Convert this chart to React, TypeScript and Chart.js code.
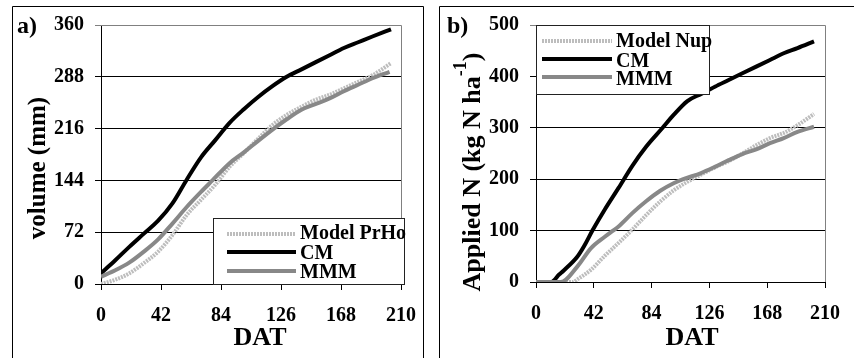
import React, { useEffect, useRef } from 'react';
import { Chart, registerables } from 'chart.js';

Chart.register(...registerables);

const FONT = "'Liberation Serif', 'Times New Roman', serif";

// ---------- Panel a: volume (mm) ----------
const aXTicks = [0, 42, 84, 126, 168, 210];
const aYTicks = [0, 72, 144, 216, 288, 360];
const aModelDays = [0, 10, 20, 30, 40, 50, 60, 70, 80, 90, 100, 110, 120, 130, 140, 150, 160, 170, 180, 190, 203];
const aModelVals = [0, 6, 15, 29, 45, 68, 96, 117, 138, 163, 182, 202, 221, 235, 246, 256, 263, 272, 281, 290, 307];
const aCMDays = [0, 10, 20, 30, 40, 50, 60, 70, 80, 90, 100, 110, 120, 130, 140, 150, 160, 170, 180, 190, 203];
const aCMVals = [15, 33, 52, 70, 88, 112, 145, 176, 200, 224, 243, 260, 275, 288, 298, 308, 318, 328, 336, 344, 354];
const aMMMDays = [0, 10, 20, 30, 40, 50, 60, 70, 78, 90, 100, 110, 121, 130, 140, 150, 160, 170, 180, 190, 202];
const aMMMVals = [10, 19, 30, 45, 62, 84, 107, 128, 144, 168, 183, 199, 216, 229, 242, 250, 258, 268, 277, 286, 295];

// ---------- Panel b: Applied N ----------
const bXTicks = [0, 42, 84, 126, 168, 210];
const bYTicks = [0, 100, 200, 300, 400, 500];
const bModelDays = [0, 27, 30, 40, 50, 60, 70, 80, 90, 100, 110, 120, 130, 140, 150, 160, 170, 180, 190, 202];
const bModelVals = [0, 0, 5, 24, 51, 76, 102, 130, 156, 178, 195, 209, 223, 235, 250, 266, 280, 290, 305, 327];
const bCMDays = [0, 11, 17, 20, 30, 35, 41, 50, 60, 70, 80, 92, 100, 110, 120, 130, 140, 150, 160, 170, 180, 190, 202];
const bCMVals = [0, 0, 15, 22, 49, 70, 100, 141, 183, 226, 263, 300, 325, 352, 366, 380, 393, 406, 419, 432, 445, 455, 468];
const bMMMDays = [0, 18, 30, 40, 50, 56, 60, 70, 80, 90, 100, 107, 120, 130, 140, 150, 160, 170, 180, 190, 202];
const bMMMVals = [0, 0, 30, 66, 88, 100, 108, 134, 157, 177, 192, 200, 212, 224, 237, 249, 258, 270, 280, 292, 302];

const MODEL_STYLE = { color: '#bdbdbd', width: 4, dash: [2, 1] };
const CM_STYLE = { color: '#000000', width: 4, dash: [] as number[] };
const MMM_STYLE = { color: '#888888', width: 4, dash: [] as number[] };

type Part = { text: string; size: number; rise?: number };

function pts(days: number[], vals: number[]) {
  return days.map((d, i) => ({ x: d, y: vals[i] }));
}

function makeDecor(d: any) {
  return {
    id: 'decor',
    afterDraw(chart: any) {
      const { ctx, chartArea: ca } = chart;
      ctx.save();
      // outer panel frame
      ctx.strokeStyle = '#000';
      ctx.lineWidth = 1;
      ctx.beginPath();
      ctx.moveTo(d.frame.left, 400);
      ctx.lineTo(d.frame.left, d.frame.top);
      ctx.lineTo(d.frame.right, d.frame.top);
      if (d.frame.right < chart.width) ctx.lineTo(d.frame.right, 400);
      ctx.stroke();
      // plot area top/right border
      ctx.strokeStyle = '#808080';
      ctx.beginPath();
      ctx.moveTo(ca.left, Math.round(ca.top) + 0.5);
      ctx.lineTo(Math.round(ca.right) + 0.5, Math.round(ca.top) + 0.5);
      ctx.lineTo(Math.round(ca.right) + 0.5, ca.bottom);
      ctx.stroke();
      // legend
      const L = d.legend;
      ctx.fillStyle = '#fff';
      ctx.fillRect(L.left, L.top, L.right - L.left, L.bottom - L.top);
      ctx.strokeStyle = '#222';
      ctx.strokeRect(L.left + 0.5, L.top + 0.5, L.right - L.left, L.bottom - L.top);
      L.items.forEach((it: any, i: number) => {
        ctx.save();
        ctx.strokeStyle = it.style.color;
        ctx.lineWidth = it.style.width;
        ctx.setLineDash(it.style.dash);
        ctx.lineCap = 'butt';
        ctx.beginPath();
        ctx.moveTo(L.sx0, L.lineY[i]);
        ctx.lineTo(L.sx1, L.lineY[i]);
        ctx.stroke();
        ctx.restore();
        ctx.fillStyle = '#000';
        ctx.font = `bold 20px ${FONT}`;
        ctx.textAlign = 'left';
        ctx.textBaseline = 'alphabetic';
        ctx.fillText(it.label, L.tx, L.baseY[i]);
      });
      // panel label
      ctx.fillStyle = '#000';
      ctx.font = `bold 24px ${FONT}`;
      ctx.textAlign = 'left';
      ctx.textBaseline = 'alphabetic';
      ctx.fillText(d.panel.text, d.panel.x, d.panel.y);
      // x title
      ctx.font = `bold 26px ${FONT}`;
      ctx.textAlign = 'center';
      ctx.fillText(d.xTitle.text, d.xTitle.x, d.xTitle.y);
      // y title (rotated, multi-part)
      const parts: Part[] = d.yTitle.parts;
      let total = 0;
      parts.forEach((p) => {
        ctx.font = `bold ${p.size}px ${FONT}`;
        total += ctx.measureText(p.text).width;
      });
      ctx.save();
      ctx.translate(d.yTitle.baseX, d.yTitle.centerY + total / 2);
      ctx.rotate(-Math.PI / 2);
      ctx.textAlign = 'left';
      let x = 0;
      parts.forEach((p) => {
        ctx.font = `bold ${p.size}px ${FONT}`;
        ctx.fillText(p.text, x, -(p.rise || 0));
        x += ctx.measureText(p.text).width;
      });
      ctx.restore();
      ctx.restore();
    },
  };
}

function buildConfig(p: any) {
  const tickFont = { family: FONT, size: 20, weight: 'bold' as const };
  const yMax = p.yTicks[p.yTicks.length - 1];
  return {
    type: 'line' as const,
    data: {
      datasets: p.series.map((s: any) => ({
        label: s.label,
        data: pts(s.days, s.vals),
        borderColor: s.style.color,
        backgroundColor: s.style.color,
        borderWidth: s.style.width,
        borderDash: s.style.dash,
        borderCapStyle: 'butt',
        borderJoinStyle: 'round',
        pointRadius: 0,
        fill: false,
        order: s.order,
        cubicInterpolationMode: 'monotone',
      })),
    },
    options: {
      responsive: false,
      animation: false,
      devicePixelRatio: 1,
      layout: { padding: { left: 0, top: p.top, right: p.rightPad, bottom: 0 } },
      plugins: { legend: { display: false }, tooltip: { enabled: false } },
      scales: {
        x: {
          type: 'linear',
          min: 0,
          max: 210,
          afterBuildTicks: (s: any) => {
            s.ticks = p.xTicks.map((v: number) => ({ value: v }));
          },
          afterFit: (s: any) => {
            s.height = p.xAxisH;
          },
          grid: { drawOnChartArea: false, drawTicks: true, tickLength: 6, color: '#000', lineWidth: 1 },
          border: { display: true, color: '#000', width: 1 },
          ticks: { font: tickFont, color: '#000', padding: 14, maxRotation: 0, autoSkip: false },
        },
        y: {
          type: 'linear',
          min: 0,
          max: yMax,
          afterBuildTicks: (s: any) => {
            s.ticks = p.yTicks.map((v: number) => ({ value: v }));
          },
          afterFit: (s: any) => {
            s.width = p.yAxisW;
          },
          grid: {
            drawTicks: true,
            tickLength: 6,
            lineWidth: 1,
            color: (c: any) => (c.tick && c.tick.value === yMax ? '#808080' : '#000'),
          },
          border: { display: true, color: '#000', width: 1 },
          ticks: { font: tickFont, color: '#000', padding: 11, autoSkip: false },
        },
      },
    },
    plugins: [makeDecor(p.decor)],
  };
}

const panelA = {
  xTicks: aXTicks,
  yTicks: aYTicks,
  top: 25,
  rightPad: 430 - 406,
  xAxisH: 358 - 284,
  yAxisW: 101,
  series: [
    { label: 'Model PrHo', days: aModelDays, vals: aModelVals, style: MODEL_STYLE, order: 2 },
    { label: 'CM', days: aCMDays, vals: aCMVals, style: CM_STYLE, order: 1 },
    { label: 'MMM', days: aMMMDays, vals: aMMMVals, style: MMM_STYLE, order: 0 },
  ],
  decor: {
    frame: { left: 12.5, top: 6.5, right: 423.5 },
    panel: { text: 'a)', x: 17, y: 33 },
    xTitle: { text: 'DAT', x: 260, y: 345 },
    yTitle: { parts: [{ text: 'volume (mm)', size: 25 }], baseX: 45, centerY: 168 },
    legend: {
      left: 213, top: 218, right: 404, bottom: 284,
      sx0: 227, sx1: 296, tx: 300,
      lineY: [234, 252, 271],
      baseY: [239, 259, 278],
      items: [
        { label: 'Model PrHo', style: MODEL_STYLE },
        { label: 'CM', style: CM_STYLE },
        { label: 'MMM', style: MMM_STYLE },
      ],
    },
  },
};

const panelB = {
  xTicks: bXTicks,
  yTicks: bYTicks,
  top: 25,
  rightPad: 424 - 405,
  xAxisH: 358 - 282,
  yAxisW: 106,
  series: [
    { label: 'Model Nup', days: bModelDays, vals: bModelVals, style: MODEL_STYLE, order: 2 },
    { label: 'CM', days: bCMDays, vals: bCMVals, style: CM_STYLE, order: 1 },
    { label: 'MMM', days: bMMMDays, vals: bMMMVals, style: MMM_STYLE, order: 0 },
  ],
  decor: {
    frame: { left: 9.5, top: 6.5, right: 1000 },
    panel: { text: 'b)', x: 17, y: 33 },
    xTitle: { text: 'DAT', x: 262, y: 345 },
    yTitle: {
      parts: [
        { text: 'Applied N (kg N ha', size: 26 },
        { text: '-1', size: 18, rise: 14 },
        { text: ')', size: 26 },
      ],
      baseX: 50,
      centerY: 172,
    },
    legend: {
      left: 106, top: 25, right: 279, bottom: 94,
      sx0: 112, sx1: 182, tx: 186,
      lineY: [41, 59, 77],
      baseY: [47, 67, 85],
      items: [
        { label: 'Model Nup', style: MODEL_STYLE },
        { label: 'CM', style: CM_STYLE },
        { label: 'MMM', style: MMM_STYLE },
      ],
    },
  },
};

export default function App() {
  const refA = useRef<HTMLCanvasElement | null>(null);
  const refB = useRef<HTMLCanvasElement | null>(null);
  useEffect(() => {
    const a = new Chart(refA.current as HTMLCanvasElement, buildConfig(panelA) as any);
    const b = new Chart(refB.current as HTMLCanvasElement, buildConfig(panelB) as any);
    return () => {
      a.destroy();
      b.destroy();
    };
  }, []);
  return (
    <div style={{ position: 'fixed', left: 0, top: 0, width: 854, height: 358, background: '#fff', overflow: 'hidden' }}>
      <canvas ref={refA} width={430} height={358} style={{ position: 'absolute', left: 0, top: 0 }} />
      <canvas ref={refB} width={424} height={358} style={{ position: 'absolute', left: 430, top: 0 }} />
    </div>
  );
}
